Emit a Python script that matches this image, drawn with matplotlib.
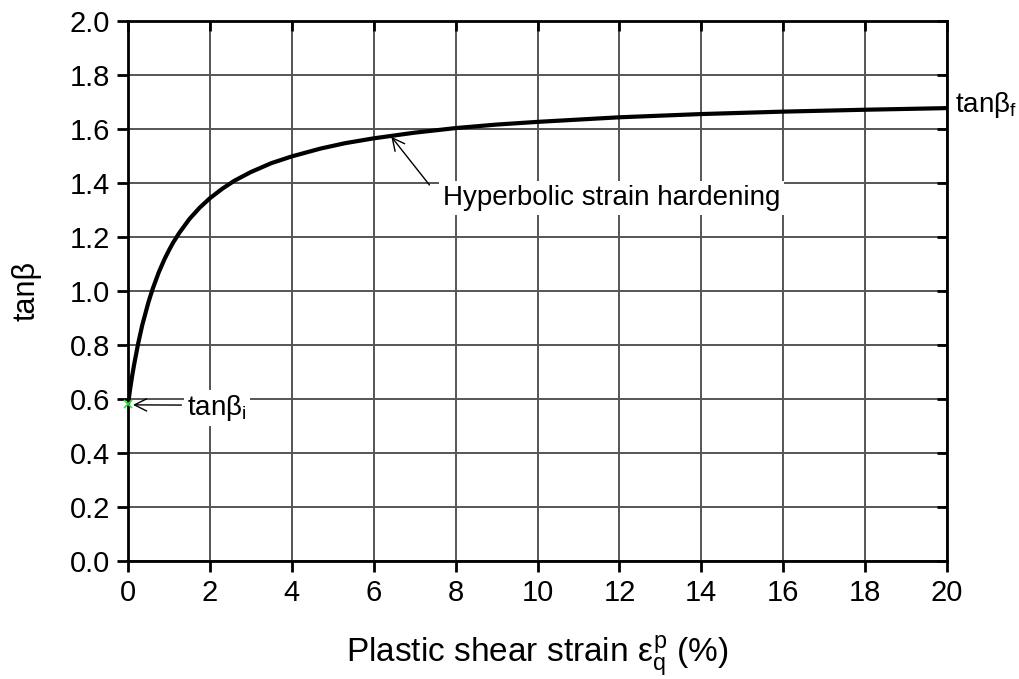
import matplotlib
matplotlib.use('Agg')
import matplotlib.pyplot as plt

plt.rcParams['font.family'] = ['Liberation Sans', 'DejaVu Sans']
plt.rcParams['mathtext.fontset'] = 'custom'
plt.rcParams['mathtext.rm'] = 'Liberation Sans'
plt.rcParams['mathtext.it'] = 'Liberation Sans'

# plastic shear strain (%) and tan(beta)
strain = [0, 0.02, 0.05, 0.1, 0.15, 0.25, 0.35, 0.5, 0.6, 0.75, 0.9, 1.0, 1.1,
          1.25, 1.5, 1.75, 2.0, 2.3, 2.6, 3.0, 3.5, 4.0, 4.7, 5.3, 6.0, 7.0,
          8.0, 9.0, 10.0, 12.0, 14.0, 16.0, 18.0, 20.0]
tanb = [0.58, 0.60, 0.634, 0.683, 0.727, 0.806, 0.874, 0.958, 1.006, 1.068,
        1.12, 1.15, 1.178, 1.214, 1.266, 1.308, 1.343, 1.378, 1.408, 1.44,
        1.473, 1.498, 1.527, 1.547, 1.565, 1.586, 1.603, 1.616, 1.626, 1.643,
        1.655, 1.664, 1.671, 1.677]

xticks = list(range(0, 21, 2))
yticks = [0.0, 0.2, 0.4, 0.6, 0.8, 1.0, 1.2, 1.4, 1.6, 1.8, 2.0]

fig = plt.figure(figsize=(10.2, 6.79), dpi=100)
ax = fig.add_axes([0.1255, 0.1745, 0.803, 0.7946])

ax.plot(strain, tanb, color='black', lw=3, zorder=3, solid_joinstyle='round')
ax.plot([strain[0]], [tanb[0]], marker='x', color='#33dd33', ms=6, mew=1.2, zorder=4, clip_on=False)

ax.set_xlim(0, 20)
ax.set_ylim(0, 2)
ax.set_xticks(xticks)
ax.set_yticks(yticks)
ax.set_xticklabels([str(v) for v in xticks])
ax.set_yticklabels(['%.1f' % v for v in yticks])

ax.grid(True, color='#555555', lw=1.4)
ax.set_axisbelow(True)
for s in ax.spines.values():
    s.set_linewidth(2)
ax.tick_params(axis='both', which='major', labelsize=21, length=8, width=2,
               direction='out', pad=5)
ax.tick_params(top=True, right=True)
for t in ax.yaxis.get_major_ticks():
    t.tick2line.set_marker(0)
    t.tick2line.set_markersize(7)
for t in ax.xaxis.get_major_ticks():
    t.tick2line.set_marker(3)
    t.tick2line.set_markersize(7)

ax.set_xlabel(r'Plastic shear strain $ε_{\mathrm{q}}^{\mathrm{p}}$ (%)', fontsize=24, labelpad=20)
ax.set_ylabel('tanβ', fontsize=22, labelpad=20)

ax.annotate('tanβ$_{\\mathrm{i}}$', xy=(0.12, 0.577), xytext=(1.44, 0.565),
            fontsize=20, va='center', ha='left',
            arrowprops=dict(arrowstyle='->', color='black', lw=1,
                            shrinkA=2, shrinkB=0, mutation_scale=22,
                            relpos=(0.0, 0.6)),
            bbox=dict(boxstyle='square,pad=0.1', fc='white', ec='none'))
ax.annotate('Hyperbolic strain hardening', xy=(6.43, 1.571), xytext=(7.69, 1.344),
            fontsize=20, va='center', ha='left',
            arrowprops=dict(arrowstyle='->', color='black', lw=1,
                            shrinkA=0, shrinkB=0, mutation_scale=22,
                            relpos=(-0.04, 1.0)),
            bbox=dict(boxstyle='square,pad=0.15', fc='white', ec='none'))
ax.text(20.2, 1.689, 'tanβ$_{\\mathrm{f}}$', fontsize=20, va='center', ha='left', clip_on=False)

fig.savefig('out.png', dpi=100)
